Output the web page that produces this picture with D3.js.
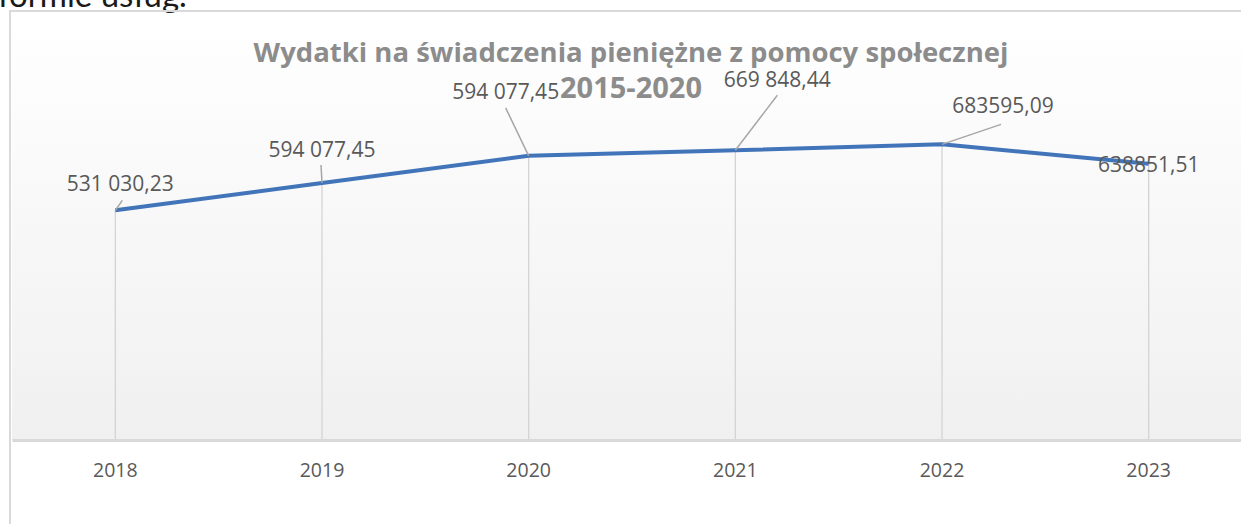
<!DOCTYPE html>
<html>
<head>
<meta charset="utf-8">
<script src="https://cdn.jsdelivr.net/npm/d3@7"></script>
<style>
  body { margin: 0; background: #fff; overflow: hidden; }
  svg { display: block; }
</style>
</head>
<body>
<div id="chart"></div>
<script>
// data
var years = ["2018", "2019", "2020", "2021", "2022", "2023"];
var values = [531030.23, 594077.45, 657000, 669848.44, 683595.09, 638851.51];
var labels = ["531 030,23", "594 077,45", "594 077,45", "669 848,44", "683595,09", "638851,51"];
var titleLines = ["Wydatki na świadczenia pieniężne z pomocy społecznej", "2015-2020"];

var W = 1241, H = 524;
var svg = d3.select("#chart").append("svg").attr("width", W).attr("height", H);

// text of the page above the chart, cut off
svg.append("text")
  .attr("x", -2).attr("y", 7)
  .style("font-family", "Lato, sans-serif")
  .style("font-size", "33px")
  .style("fill", "#1a1a1a")
  .text("formie usług.");

// plot area
var plotLeft = 12, plotRight = 1252, plotTop = 20, plotBottom = 440;

var defs = svg.append("defs");
var grad = defs.append("linearGradient").attr("id", "bg")
  .attr("x1", 0).attr("y1", 0).attr("x2", 0).attr("y2", 1);
grad.append("stop").attr("offset", "0%").attr("stop-color", "#ffffff");
grad.append("stop").attr("offset", "100%").attr("stop-color", "#f0f0f0");

svg.append("rect")
  .attr("x", plotLeft).attr("y", plotTop)
  .attr("width", plotRight - plotLeft).attr("height", plotBottom - plotTop)
  .attr("fill", "url(#bg)");

// frame
svg.append("line").attr("x1", 10).attr("x2", W).attr("y1", 11).attr("y2", 11)
  .attr("stroke", "#d9d9d9").attr("stroke-width", 2);
svg.append("line").attr("x1", 10).attr("x2", 10).attr("y1", 10).attr("y2", H)
  .attr("stroke", "#d9d9d9").attr("stroke-width", 2);

var x = d3.scaleBand().domain(years).range([plotLeft, plotRight]);
var y = d3.scaleLinear().domain([0, 800000]).range([plotBottom, 94]);
function cx(d) { return x(d) + x.bandwidth() / 2; }

// drop lines
svg.selectAll(".drop").data(years).enter().append("line")
  .attr("class", "drop")
  .attr("x1", cx).attr("x2", cx)
  .attr("y1", function(d, i) { return y(values[i]); })
  .attr("y2", plotBottom)
  .attr("stroke", "#d4d4d4").attr("stroke-width", 1.3);

// axis
var xAxis = svg.append("g").attr("transform", "translate(0," + plotBottom + ")")
  .call(d3.axisBottom(x).tickSize(0).tickPadding(23));
xAxis.select(".domain").attr("stroke", "#d9d9d9").attr("stroke-width", 3);
xAxis.selectAll("text")
  .style("font-family", "'Open Sans', sans-serif")
  .style("font-size", "19.5px")
  .style("fill", "#595959");

// line
var line = d3.line()
  .x(function(d) { return cx(d.year); })
  .y(function(d) { return y(d.value); });
var pts = years.map(function(d, i) { return { year: d, value: values[i] }; });
svg.append("path").datum(pts)
  .attr("d", line)
  .attr("fill", "none")
  .attr("stroke", "#4174b9")
  .attr("stroke-width", 4)
  .attr("stroke-linejoin", "round");

// data labels: offsets relative to point
var labelOffsets = [[5, -19], [0, -26], [-23, -57], [42, -63], [61, -31], [0, 8]];
var leaderOffsets = [[7, -10], [-1, -18], [-23, -48], [42, -55], [59, -20], null];

svg.selectAll(".leader").data(years).enter()
  .filter(function(d, i) { return leaderOffsets[i] !== null; })
  .append("line")
  .attr("class", "leader")
  .attr("x1", cx)
  .attr("y1", function(d) { return y(values[years.indexOf(d)]); })
  .attr("x2", function(d) { return cx(d) + leaderOffsets[years.indexOf(d)][0]; })
  .attr("y2", function(d) { return y(values[years.indexOf(d)]) + leaderOffsets[years.indexOf(d)][1]; })
  .attr("stroke", "#a6a6a6").attr("stroke-width", 1.5);

svg.selectAll(".lbl").data(years).enter().append("text")
  .attr("class", "lbl")
  .attr("x", function(d, i) { return cx(d) + labelOffsets[i][0]; })
  .attr("y", function(d, i) { return y(values[i]) + labelOffsets[i][1]; })
  .attr("text-anchor", "middle")
  .style("font-family", "'Open Sans', sans-serif")
  .style("font-size", "21px")
  .style("fill", "#595959")
  .text(function(d, i) { return labels[i]; });

// title
var titleSizes = [27.5, 29];
svg.selectAll(".title").data(titleLines).enter().append("text")
  .attr("class", "title")
  .attr("x", 631)
  .attr("y", function(d, i) { return 62 + i * 36; })
  .attr("text-anchor", "middle")
  .style("font-family", "'Open Sans', sans-serif")
  .style("font-weight", "bold")
  .style("font-size", function(d, i) { return titleSizes[i] + "px"; })
  .style("fill", "#8c8c8c")
  .text(function(d) { return d; });
</script>
</body>
</html>
